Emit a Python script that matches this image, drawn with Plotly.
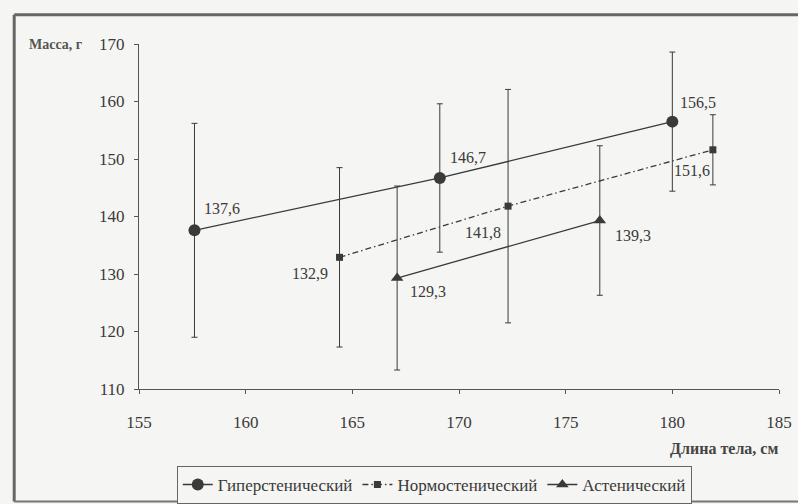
import plotly.graph_objects as go

# Body length (cm), mass (g) and spread for each constitution type
hyper_x = [157.6, 169.1, 180.0]
hyper_y = [137.6, 146.7, 156.5]
hyper_err = [18.6, 12.9, 12.1]

normo_x = [164.4, 172.3, 181.9]
normo_y = [132.9, 141.8, 151.6]
normo_err = [15.6, 20.3, 6.1]

asthen_x = [167.1, 176.6]
asthen_y = [129.3, 139.3]
asthen_err = [16.0, 13.0]

names = ["Гиперстенический", "Нормостенический", "Астенический"]

x_ticks = [155, 160, 165, 170, 175, 180, 185]
y_ticks = [110, 120, 130, 140, 150, 160, 170]

INK = "#3a3a3a"
SERIF = "Liberation Serif"


def fmt(v):
    return f"{v:.1f}".replace(".", ",")


fig = go.Figure()

series = [
    (hyper_x, hyper_y, hyper_err, names[0], "solid", dict(symbol="circle", size=12)),
    (normo_x, normo_y, normo_err, names[1], "6px,3px,1.5px,3px", dict(symbol="square", size=7)),
    (asthen_x, asthen_y, asthen_err, names[2], "solid", dict(symbol="triangle-up", size=11)),
]
for xs, ys, es, nm, dash, mk in series:
    fig.add_trace(go.Scatter(
        x=xs, y=ys, name=nm, mode="lines+markers",
        line=dict(color=INK, width=1.3, dash=dash),
        marker=dict(color=INK, **mk),
        error_y=dict(type="data", array=es, visible=True, color=INK,
                     thickness=1, width=3),
    ))

# Value labels next to each point (pixel offsets)
label_offsets = [
    [(28, -22), (28, -20), (26, -19)],
    [(-30, 16), (-25, 26), (-21, 21)],
    [(31, 13), (33, 15)],
]
for (xs, ys, _, _, _, _), offs in zip(series, label_offsets):
    for x, y, (dx, dy) in zip(xs, ys, offs):
        fig.add_annotation(x=x, y=y, text=fmt(y), showarrow=False,
                           xshift=dx, yshift=-dy,
                           font=dict(family=SERIF, size=16, color=INK))

# Axis captions
fig.add_annotation(xref="paper", yref="paper", x=-0.175, y=1.0,
                   xanchor="left", yanchor="middle", text="<b>Масса, г</b>",
                   showarrow=False, font=dict(family=SERIF, size=14, color="#555"))
fig.add_annotation(xref="paper", yref="paper", x=1.0016, y=-0.174,
                   xanchor="right", yanchor="middle", text="<b>Длина тела, см</b>",
                   showarrow=False, font=dict(family=SERIF, size=16, color="#444"))

# Outer frame around the figure
fig.add_shape(type="line", xref="paper", yref="paper",
              x0=-0.195, x1=-0.195, y0=-0.326, y1=1.085,
              line=dict(color="#666", width=3))
fig.add_shape(type="line", xref="paper", yref="paper",
              x0=-0.195, x1=1.05, y0=1.085, y1=1.085,
              line=dict(color="#666", width=3))
fig.add_shape(type="line", xref="paper", yref="paper",
              x0=-0.195, x1=1.05, y0=-0.326, y1=-0.326,
              line=dict(color="#777", width=2))

axis_common = dict(showgrid=False, zeroline=False, showline=True,
                   linecolor="#555", linewidth=1, ticks="outside",
                   tickcolor="#555", ticklen=4,
                   tickfont=dict(family=SERIF, size=17, color=INK))

fig.update_layout(
    width=798, height=504,
    margin=dict(l=139, r=19, t=44, b=115, autoexpand=False),
    paper_bgcolor="#f5f5f3", plot_bgcolor="#f5f5f3",
    xaxis=dict(range=[155, 185], tickvals=x_ticks, ticklabelstandoff=14, **axis_common),
    yaxis=dict(range=[110, 170], tickvals=y_ticks, ticklabelstandoff=6, **axis_common),
    showlegend=True,
    legend=dict(orientation="h", x=0.059, y=-0.223, xanchor="left", yanchor="top",
                bordercolor="#666", borderwidth=1, bgcolor="#f5f5f3",
                font=dict(family=SERIF, size=17, color=INK),
                itemwidth=30, tracegroupgap=0),
)

fig.write_html("out.html")
